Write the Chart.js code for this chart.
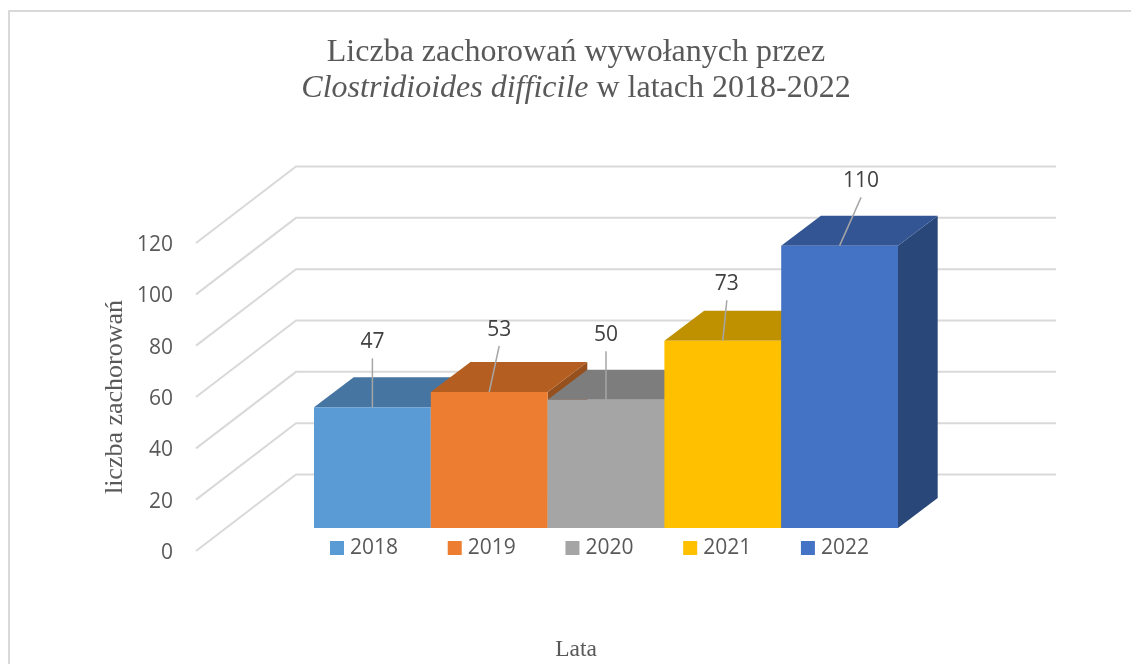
<!DOCTYPE html>
<html><head><meta charset="utf-8">
<style>html,body{margin:0;padding:0;background:#fff;overflow:hidden}canvas{display:block}</style>
<script src="https://cdn.jsdelivr.net/npm/chart.js@4/dist/chart.umd.min.js"></script>
</head><body><canvas id="c" width="1131" height="664"></canvas>
<script>
const years = ['2018','2019','2020','2021','2022'];
const cases = [47,53,50,73,110];
const frontColors = ['#5B9BD5','#ED7D31','#A5A5A5','#FFC000','#4472C4'];
const topColors = ['#4675A1','#B45E21','#7D7D7D','#BF9000','#335593'];
const sideColors = ['#3A6186','#96501D','#686868','#9E7700','#2A4779'];
const labelShiftX = [0,10,0,4,21.5];
const labelRise = [65,62,64.5,56.4,64.3];
const serif = '"Liberation Serif","Times New Roman",serif';
const sans = '"Open Sans",sans-serif';
const TEXT = '#595959', GRID = '#D9D9D9';
const WALL = {dx:100, dy:76.5}, BAR = {dx:39.7, dy:30};

function poly(ctx, pts, fill){
  ctx.beginPath(); pts.forEach((p,i)=> i?ctx.lineTo(p[0],p[1]):ctx.moveTo(p[0],p[1]));
  ctx.closePath(); ctx.fillStyle=fill; ctx.fill();
}
const plugin3d = {
  id:'plugin3d',
  beforeLayout(chart){
    const lg = chart.legend;
    if(lg && !lg._patched){
      const f = lg.fit; lg.fit = function(){ f.call(this); this.height = 0; }; lg._patched = true;
    }
  },
  beforeDraw(chart){
    const {ctx, scales:{y,x}, chartArea:a, legend} = chart;
    // frame
    ctx.save(); ctx.strokeStyle=GRID; ctx.lineWidth=2;
    ctx.beginPath(); ctx.moveTo(9,664); ctx.lineTo(9,11); ctx.lineTo(1131,11); ctx.stroke();
    // walls
    ctx.lineWidth=2;
    y.ticks.forEach(t=>{
      const py = y.getPixelForValue(t.value);
      ctx.beginPath(); ctx.moveTo(a.left,py); ctx.lineTo(a.left+WALL.dx,py-WALL.dy); ctx.lineTo(1056,py-WALL.dy); ctx.stroke();
    });
    ctx.restore();
    // title with mixed styles
    ctx.save(); ctx.fillStyle=TEXT; ctx.textBaseline='middle';
    const cx=576;
    ctx.font='32px '+serif; ctx.textAlign='center';
    ctx.fillText('Liczba zachorowań wywołanych przez',cx,53);
    ctx.textAlign='left';
    const a1='Clostridioides difficile', b1=' w latach 2018-2022';
    ctx.font='italic 32px '+serif; const w1=ctx.measureText(a1).width;
    ctx.font='32px '+serif; const w2=ctx.measureText(b1).width;
    const sx=cx-(w1+w2)/2;
    ctx.font='italic 32px '+serif; ctx.fillText(a1,sx,89);
    ctx.font='32px '+serif; ctx.fillText(b1,sx+w1,89);
    ctx.restore();
    // legend + axis title placement
    const p = legend.options.labels.padding;
    legend.left = 334.5-p; legend.right = legend.left+760;
    legend.top = 548-10.5-p; legend.bottom = legend.top+200;
    x.left = 136;
  },
  beforeDatasetsDraw(chart){
    const ctx = chart.ctx;
    chart.data.datasets.forEach((d,i)=>{
      const meta = chart.getDatasetMeta(i), el = meta.data[0];
      const hw = el.width/2, l=el.x-hw, r=el.x+hw, t=el.y, b=el.base;
      poly(ctx,[[r,t],[r+BAR.dx,t-BAR.dy],[r+BAR.dx,b-BAR.dy],[r,b]],sideColors[i]);
      poly(ctx,[[l,t],[l+BAR.dx,t-BAR.dy],[r+BAR.dx,t-BAR.dy],[r,t]],topColors[i]);
      meta.controller.draw();
    });
    return false;
  },
  afterDraw(chart){
    const ctx = chart.ctx;
    chart.data.datasets.forEach((d,i)=>{
      const el = chart.getDatasetMeta(i).data[0];
      const lx = el.x+labelShiftX[i], ly = el.y-labelRise[i];
      ctx.save();
      ctx.strokeStyle='#A6A6A6'; ctx.lineWidth=1.5;
      ctx.beginPath(); ctx.moveTo(lx,ly+16); ctx.lineTo(el.x,el.y); ctx.stroke();
      ctx.fillStyle='#404040'; ctx.font='21px '+sans; ctx.textAlign='center'; ctx.textBaseline='middle';
      ctx.fillText(String(d.data[0]),lx,ly);
      ctx.restore();
    });
  }
};

new Chart(document.getElementById('c'),{
  type:'bar',
  data:{labels:['Lata'],datasets:years.map((yr,i)=>({
    label:yr,data:[cases[i]],backgroundColor:frontColors[i],borderWidth:0,yAxisID:'y2',
    categoryPercentage:0.7122,barPercentage:1
  }))},
  options:{
    responsive:false,animation:false,
    layout:{padding:{top:243,right:115,bottom:0,left:0}},
    plugins:{
      tooltip:{enabled:false},
      title:{display:false},
      legend:{display:true,position:'bottom',align:'start',
        labels:{boxWidth:5,boxHeight:5,padding:54.2,color:TEXT,font:{family:sans,size:21},
          generateLabels(c){return Chart.defaults.plugins.legend.labels.generateLabels(c).map(l=>({...l,lineWidth:9,strokeStyle:l.fillStyle}));}}}
    },
    scales:{
      x:{grid:{display:false},border:{display:false},ticks:{display:false},
        title:{display:true,text:'Lata',color:TEXT,font:{family:serif,size:23.5},padding:{top:2,bottom:0}},
        afterFit(s){s.height=113;}},
      y:{position:'left',min:0,max:120,grid:{display:false},border:{display:false},
        ticks:{stepSize:20,padding:15,labelOffset:2,color:TEXT,font:{family:sans,size:21}},
        title:{display:true,text:'liczba zachorowań',color:TEXT,font:{family:serif,size:26},padding:{top:100,bottom:0}},
        afterFit(s){s.width=196;}},
      y2:{display:false,min:-8.96,max:111.04}
    }
  },
  plugins:[plugin3d]
});
</script></body></html>
